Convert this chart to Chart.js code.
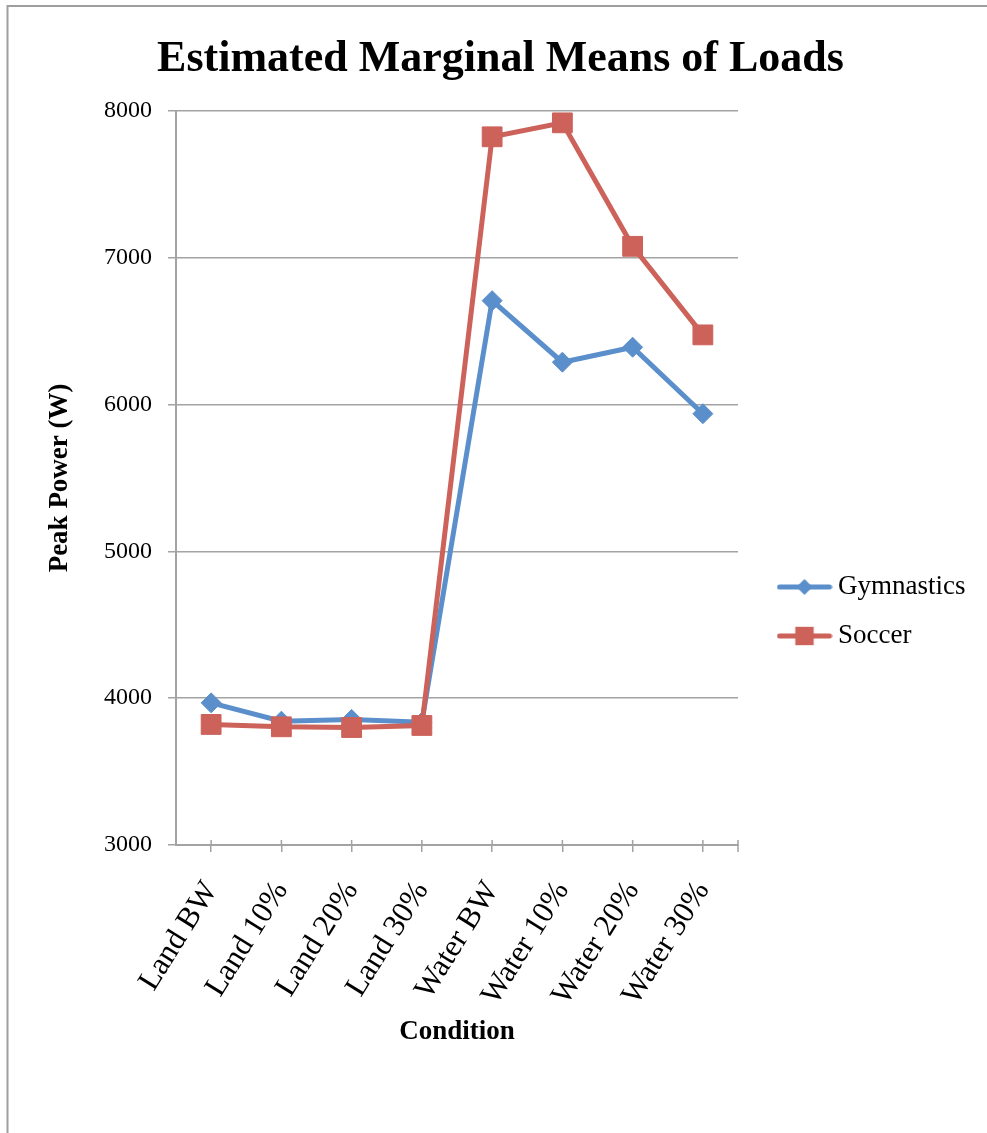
<!DOCTYPE html>
<html>
<head>
<meta charset="utf-8">
<script src="https://cdn.jsdelivr.net/npm/chart.js@4.4.1/dist/chart.umd.min.js"></script>
<style>
  html, body { margin: 0; padding: 0; background: #ffffff; }
  #wrap { width: 987px; height: 1133px; position: relative; }
</style>
</head>
<body>
<div id="wrap"><canvas id="chart"></canvas></div>
<script>
// Peak power estimated marginal means by load condition
const conditions = ['Land BW', 'Land 10%', 'Land 20%', 'Land 30%', 'Water BW', 'Water 10%', 'Water 20%', 'Water 30%'];
const gymnastics = [3968, 3843, 3855, 3836, 6707, 6288, 6390, 5937];
const soccer = [3821, 3805, 3800, 3814, 7823, 7918, 7077, 6474];
const seriesNames = ['Gymnastics', 'Soccer'];
const powerTicks = [3000, 4000, 5000, 6000, 7000, 8000];

const blue = '#5A8FCB';
const red = '#CC625A';
const grey = '#A3A3A3';
const serif = "'Liberation Serif', 'Times New Roman', serif";

// Legend key: a short line with the series marker in the middle
function legendIcon(color, style, radius) {
  const c = document.createElement('canvas');
  c.width = 56; c.height = 28;
  const ctx = c.getContext('2d');
  ctx.strokeStyle = color;
  ctx.lineWidth = 5;
  ctx.lineCap = 'round';
  ctx.beginPath();
  ctx.moveTo(3, 14);
  ctx.lineTo(53, 14);
  ctx.stroke();
  ctx.fillStyle = color;
  Chart.helpers.drawPoint(ctx, { pointStyle: style, radius: radius, borderWidth: 0 }, 28, 14);
  return c;
}
const icons = [legendIcon(blue, 'rectRot', 8), legendIcon(red, 'rect', 13)];

// Outer frame (top and left edges)
const frame = {
  id: 'frame',
  beforeDraw(chart) {
    const ctx = chart.ctx;
    ctx.save();
    ctx.strokeStyle = '#9E9E9E';
    ctx.lineWidth = 2;
    ctx.beginPath();
    ctx.moveTo(7.5, chart.height);
    ctx.lineTo(7.5, 6);
    ctx.lineTo(chart.width, 6);
    ctx.stroke();
    ctx.restore();
  }
};

// Category tick marks crossing the x axis, plus the closing tick at the axis end
const xTickMarks = {
  id: 'xTickMarks',
  beforeDatasetsDraw(chart) {
    const xs = chart.scales.x;
    const b = chart.chartArea.bottom;
    const ctx = chart.ctx;
    ctx.save();
    ctx.strokeStyle = grey;
    ctx.lineWidth = 1.5;
    ctx.beginPath();
    xs.ticks.forEach((t, i) => {
      const px = xs.getPixelForTick(i);
      ctx.moveTo(px, b - 5);
      ctx.lineTo(px, b);
    });
    ctx.moveTo(xs.right, b - 5);
    ctx.lineTo(xs.right, b + 7);
    ctx.stroke();
    ctx.restore();
  }
};

// Fixed legend column width and item placement
const legendPlacement = {
  id: 'legendPlacement',
  beforeLayout(chart) {
    const lg = chart.legend;
    if (lg && !lg._fixedFit) {
      const fit = lg.fit;
      lg.fit = function () { fit.call(this); this.width = 249; };
      lg._fixedFit = true;
    }
  },
  afterLayout(chart) {
    const lg = chart.legend;
    if (!lg) return;
    lg.left = 762.5;
    lg.right = chart.width;
    lg.top = 551.5;
    lg.bottom = chart.height;
  }
};

new Chart(document.getElementById('chart'), {
  type: 'line',
  data: {
    labels: conditions,
    datasets: [
      {
        label: seriesNames[0],
        data: gymnastics,
        borderColor: blue,
        backgroundColor: blue,
        borderWidth: 5,
        tension: 0,
        pointStyle: 'rectRot',
        pointRadius: 10,
        pointBorderWidth: 1,
        pointBackgroundColor: blue,
        pointBorderColor: blue,
        order: 1
      },
      {
        label: seriesNames[1],
        data: soccer,
        borderColor: red,
        backgroundColor: red,
        borderWidth: 5,
        tension: 0,
        pointStyle: 'rect',
        pointRadius: 14,
        pointBorderWidth: 1,
        pointBackgroundColor: red,
        pointBorderColor: red,
        order: 0
      }
    ]
  },
  options: {
    responsive: true,
    maintainAspectRatio: false,
    animation: false,
    devicePixelRatio: 1,
    events: [],
    layout: { padding: { left: 14, right: 0, top: 0, bottom: 0 } },
    plugins: {
      title: {
        display: true,
        text: 'Estimated Marginal Means of Loads',
        color: '#000',
        font: { family: serif, size: 44, weight: 'bold' },
        padding: { top: 33, bottom: 25 }
      },
      legend: {
        position: 'right',
        align: 'start',
        labels: {
          usePointStyle: true,
          pointStyleWidth: 40,
          padding: 22,
          color: '#000',
          font: { family: serif, size: 27 },
          generateLabels(chart) {
            return chart.data.datasets.map((ds, i) => ({
              text: ds.label,
              pointStyle: icons[i],
              fillStyle: ds.borderColor,
              strokeStyle: ds.borderColor,
              lineWidth: 0,
              hidden: false,
              fontColor: '#000',
              datasetIndex: i
            }));
          }
        }
      },
      tooltip: { enabled: false }
    },
    scales: {
      x: {
        type: 'category',
        offset: true,
        grid: { display: true, drawOnChartArea: false, drawTicks: true, tickLength: 7, color: grey, lineWidth: 1.5, offset: false },
        border: { display: true, color: grey, width: 2 },
        ticks: { autoSkip: false, minRotation: 58, maxRotation: 58, padding: 23, color: '#000', font: { family: serif, size: 31 } },
        title: { display: true, text: 'Condition', color: '#000', font: { family: serif, size: 27, weight: 'bold' }, padding: { top: 0, bottom: 85 } },
        afterFit(s) { s.height = 288; }
      },
      y: {
        min: powerTicks[0],
        max: powerTicks[powerTicks.length - 1],
        afterBuildTicks(s) { s.ticks = powerTicks.map(v => ({ value: v })); },
        grid: { color: grey, lineWidth: 1.5, tickLength: 8, drawTicks: true },
        border: { display: true, color: grey, width: 2 },
        ticks: { padding: 16, color: '#000', font: { family: serif, size: 24 }, callback: v => String(v) },
        title: { display: true, text: 'Peak Power (W)', color: '#000', font: { family: serif, size: 27, weight: 'bold' }, padding: { top: 30, bottom: 0 } },
        afterFit(s) { s.width = 162; }
      }
    }
  },
  plugins: [frame, xTickMarks, legendPlacement]
});
</script>
</body>
</html>
